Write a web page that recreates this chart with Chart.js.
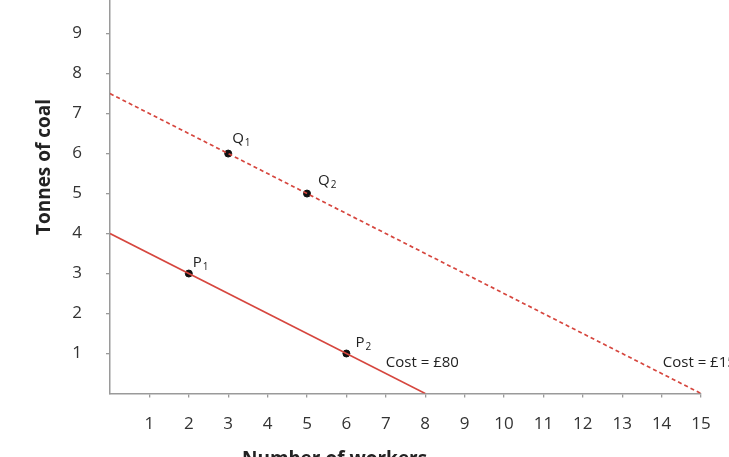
<!DOCTYPE html>
<html>
<head>
<meta charset="utf-8">
<script src="https://cdn.jsdelivr.net/npm/chart.js"></script>
<style>
  html, body { margin: 0; padding: 0; background: #fff; overflow: hidden; }
  #wrap { position: relative; width: 729px; height: 462px; margin-top: -5px; }
</style>
</head>
<body>
<div id="wrap"><canvas id="costChart"></canvas></div>
<script>
  // isocost lines: cost = £80 (solid) and cost = £150 (dashed)
  const lowCostX = [0, 8];
  const lowCostY = [4, 0];
  const highCostX = [0, 15];
  const highCostY = [7.5, 0];

  // marked input combinations
  const pointLetters = ["P", "P", "Q", "Q"];
  const pointSubs = ["1", "2", "1", "2"];
  const pointX = [2, 6, 3, 5];
  const pointY = [3, 1, 6, 5];

  const costLabels = ["Cost = £80", "Cost = £150"];
  const costLabelX = [7, 14.03];
  const costLabelY = [0.78, 0.78];

  const xTicks = [1, 2, 3, 4, 5, 6, 7, 8, 9, 10, 11, 12, 13, 14, 15];
  const yTicks = [1, 2, 3, 4, 5, 6, 7, 8, 9];

  const xTitle = "Number of workers";
  const yTitle = "Tonnes of coal";

  const RED = "#d6463e";
  const AXIS = "#9a9a9a";
  const FONT = "'Open Sans', sans-serif";
  const SHIFT = 5; // canvas is pulled up by this much so the y axis runs off the top

  function toXY(xs, ys) {
    return xs.map((x, i) => ({ x: x, y: ys[i] }));
  }

  // pixel nudges for the point labels, same order as the points
  const labelNudge = [[4, -11], [9, -11], [4, -15], [11, -13]];

  const annotations = {
    id: "annotations",
    afterDatasetsDraw(chart) {
      const ctx = chart.ctx;
      const xs = chart.scales.x;
      const ys = chart.scales.y;
      ctx.save();
      ctx.fillStyle = "#222";
      ctx.textBaseline = "middle";
      ctx.textAlign = "left";

      pointX.forEach((v, i) => {
        const px = xs.getPixelForValue(v) + labelNudge[i][0];
        const py = ys.getPixelForValue(pointY[i]) + labelNudge[i][1];
        ctx.font = "15px " + FONT;
        ctx.fillText(pointLetters[i], px, py);
        const w = ctx.measureText(pointLetters[i]).width;
        ctx.font = "10px " + FONT;
        ctx.fillText(pointSubs[i], px + w + 1, py + 5);
      });

      ctx.font = "15px " + FONT;
      costLabels.forEach((t, i) => {
        ctx.fillText(t, xs.getPixelForValue(costLabelX[i]), ys.getPixelForValue(costLabelY[i]));
      });

      // axis titles
      ctx.fillStyle = "#222";
      ctx.font = "bold 19px " + FONT;
      ctx.textBaseline = "top";
      ctx.fillText(xTitle, 242, 450 + SHIFT);

      ctx.translate(45, 167 + SHIFT);
      ctx.rotate(-Math.PI / 2);
      ctx.textAlign = "center";
      ctx.textBaseline = "middle";
      ctx.fillText(yTitle, 0, 0);
      ctx.restore();
    },
  };

  new Chart(document.getElementById("costChart"), {
    type: "scatter",
    data: {
      datasets: [
        {
          label: "Cost = £80",
          data: toXY(lowCostX, lowCostY),
          showLine: true,
          borderColor: RED,
          borderWidth: 1.6,
          pointRadius: 0,
        },
        {
          label: "Cost = £150",
          data: toXY(highCostX, highCostY),
          showLine: true,
          borderColor: RED,
          borderWidth: 1.7,
          borderDash: [4, 3],
          pointRadius: 0,
        },
        {
          label: "Points",
          data: toXY(pointX, pointY),
          showLine: false,
          pointRadius: 3.5,
          pointBackgroundColor: "#111",
          pointBorderColor: "#111",
        },
      ],
    },
    options: {
      responsive: true,
      maintainAspectRatio: false,
      animation: false,
      layout: { padding: { top: 0, left: 0, right: 28, bottom: 0 } },
      plugins: {
        legend: { display: false },
        tooltip: { enabled: false },
      },
      scales: {
        x: {
          type: "linear",
          min: 0,
          max: 15,
          afterBuildTicks: (s) => { s.ticks = xTicks.map((v) => ({ value: v })); },
          afterFit: (s) => { s.height = 63.5; },
          ticks: {
            color: "#333",
            font: { family: FONT, size: 17 },
            padding: 16,
          },
          grid: { drawOnChartArea: false, drawTicks: true, tickLength: 4, color: AXIS, lineWidth: 1.3 },
          border: { display: true, color: AXIS, width: 1.5 },
        },
        y: {
          type: "linear",
          min: 0,
          max: 9.84,
          afterBuildTicks: (s) => { s.ticks = yTicks.map((v) => ({ value: v })); },
          afterFit: (s) => { s.width = 110; s.paddingTop = 0; },
          ticks: {
            color: "#333",
            font: { family: FONT, size: 17 },
            padding: 24,
          },
          grid: { drawOnChartArea: false, drawTicks: true, tickLength: 4, color: AXIS, lineWidth: 1.3 },
          border: { display: true, color: AXIS, width: 1.5 },
        },
      },
    },
    plugins: [annotations],
  });
</script>
</body>
</html>
